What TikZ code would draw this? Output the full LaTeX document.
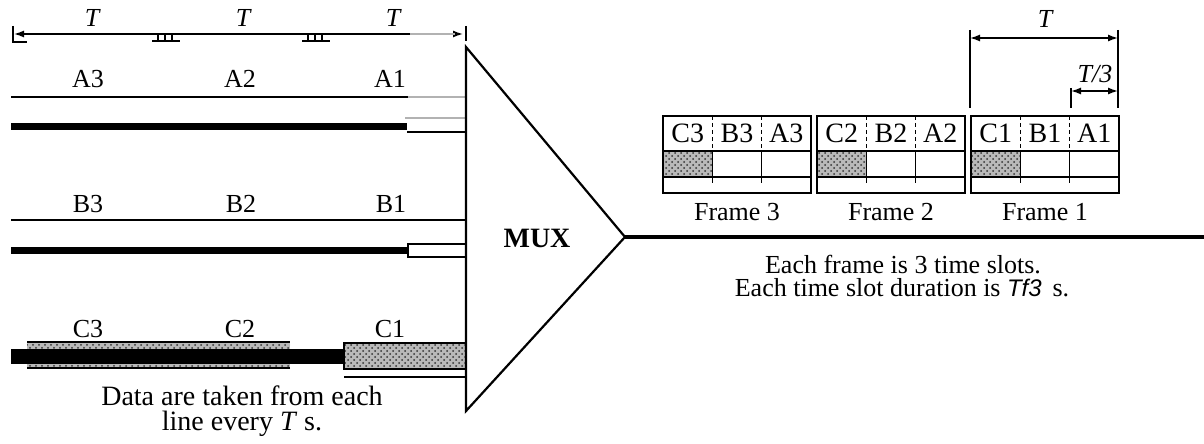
\documentclass[tikz,border=0pt]{standalone}
\usepackage{fontspec}
\setmainfont{Liberation Serif}
\newfontfamily\sansit{Liberation Sans}
\usetikzlibrary{arrows.meta,patterns}
\begin{document}
\begin{tikzpicture}[x=0.5pt,y=-0.5pt,
  lbl/.style={font=\fontsize{13}{15}\selectfont, inner sep=0pt, anchor=base},
  biglbl/.style={font=\fontsize{14}{16}\selectfont, inner sep=0pt, anchor=base},
  wire/.style={line width=0.7pt},
  greywire/.style={line width=0.7pt, draw=gray!60},
  bar/.style={fill=black},
  stip/.style={fill=gray!55, postaction={pattern=crosshatch dots, pattern color=black!80}},
  frm/.style={line width=0.6pt},
  frmthick/.style={line width=1.3pt},
  sepdash/.style={line width=0.5pt, dash pattern=on 2pt off 1.5pt},
  dimarrow/.style={line width=0.7pt, {Latex[length=5pt,width=3.5pt]}-{Latex[length=5pt,width=3.5pt]}},
]
\useasboundingbox (0,0) rectangle (1204,444);

% ---------- top dimension line ----------
\coordinate (dl) at (14,34);
\coordinate (dr) at (463,34);
\draw[dimarrow] (dl) -- (dr);
\draw[greywire, line width=1pt] (410,34) -- (455,34);
\draw[wire] (13,26) -- (13,42) -- (27,42);
\draw[wire] (466,26) -- (466,41);
\foreach \bx in {152,302}{
  \draw[wire] (\bx,41) -- ({\bx+28},41);
  \foreach \k in {6,13,20} \draw[wire] ({\bx+\k},35) -- ({\bx+\k},41);
}
\node[lbl, font=\fontsize{13}{15}\selectfont\itshape] (t1) at (92,27) {T};
\node[lbl, font=\fontsize{13}{15}\selectfont\itshape] (t2) at (243,27) {T};
\node[lbl, font=\fontsize{13}{15}\selectfont\itshape] (t3) at (393,27) {T};

% ---------- line A ----------
\node[lbl] (a3) at (88,88) {A3};
\node[lbl] (a2) at (240,88) {A2};
\node[lbl] (a1) at (390,88) {A1};
\draw[wire] (11,97) -- (408,97);
\draw[greywire] (408,97) -- (466,97);
\fill[bar] (11,123) rectangle (407,130);
\draw[greywire] (405,118) -- (466,118);
\draw[wire] (407,132) -- (466,132);

% ---------- line B ----------
\node[lbl] (b3) at (88,212) {B3};
\node[lbl] (b2) at (241,212) {B2};
\node[lbl] (b1) at (391,212) {B1};
\draw[wire] (11,220) -- (466,220);
\fill[bar] (11,247) rectangle (408,254);
\draw[wire] (408,244) rectangle (466,257);

% ---------- line C ----------
\node[lbl] (c3) at (88,337) {C3};
\node[lbl] (c2) at (240,337) {C2};
\node[lbl] (c1) at (390,337) {C1};
\fill[stip] (27,342) rectangle (290,368);
\draw[wire] (27,342) -- (290,342);
\draw[wire] (27,368) -- (290,368);
\fill[bar] (11,349) rectangle (344,364);
\fill[stip] (344,343) rectangle (466,369);
\draw[wire] (344,343) rectangle (466,369);
\draw[wire] (344,377) -- (466,377);

\node[biglbl] (data1) at (242,405) {Data are taken from each};
\node[biglbl] (data2) at (242,430) {line every \textit{T} s.};

% ---------- MUX ----------
\coordinate (mtop) at (466,47);
\coordinate (apex) at (625,237);
\coordinate (mbot) at (466,411);
\draw[line width=1.1pt, line join=miter] (mtop) -- (apex) -- (mbot) -- cycle;
\node[lbl, font=\fontsize{14}{16}\selectfont\bfseries] (mux) at (537,247) {MUX};
\coordinate (outend) at (1204,237);
\draw[line width=1.6pt] (apex) -- (outend);

% ---------- frames ----------
\foreach \fx/\n in {663/3, 817/2, 971/1}{
  \pgfmathsetmacro{\sa}{\fx+49.3}
  \pgfmathsetmacro{\sb}{\fx+98.7}
  \pgfmathsetmacro{\se}{\fx+148}
  % row 1
  \draw[frm] (\fx,116) rectangle (\se,151);
  \draw[sepdash] (\sa,116) -- (\sa,151);
  \draw[sepdash] (\sb,116) -- (\sb,151);
  \node[biglbl] (fc\n) at ({\fx+24.7},142) {C\n};
  \node[biglbl] (fb\n) at ({\fx+74},142) {B\n};
  \node[biglbl] (fa\n) at ({\fx+123.3},142) {A\n};
  % row 2
  \fill[stip] (\fx,151) rectangle (\sa,177);
  \draw[frmthick] (\fx,151) rectangle (\se,177);
  \draw[frm] (\sa,151) -- (\sa,177);
  \draw[frm] (\sb,151) -- (\sb,177);
  % row 3
  \draw[frm] (\fx,177) rectangle (\se,193);
  \draw[frm] (\sa,177) -- (\sa,183);
  \draw[frm] (\sb,177) -- (\sb,183);
  \node[lbl] (fr\n) at ({\fx+74},220) {Frame \n};
}

% ---------- T and T/3 dimensions ----------
\draw[wire] (970,30) -- (970,108);
\draw[wire] (1118,30) -- (1118,108);
\draw[wire] (1071,88) -- (1071,108);
\coordinate (tl) at (970,38);
\coordinate (tr) at (1118,38);
\draw[dimarrow] (tl) -- (tr);
\node[lbl, font=\fontsize{13}{15}\selectfont\itshape] (tlab) at (1045,28) {T};
\coordinate (t3l) at (1071,91);
\coordinate (t3r) at (1118,91);
\draw[dimarrow] (t3l) -- (t3r);
\node[lbl, font=\fontsize{13}{15}\selectfont\itshape] (t3lab) at (1095,83) {T/3};

% ---------- right text ----------
\node[lbl] (ef1) at (903,273) {Each frame is 3 time slots.};
\node[lbl] (ef2) at (902,296) {Each time slot duration is {\sansit\itshape\fontsize{12}{14}\selectfont Tf3}\, s.};
\end{tikzpicture}
\end{document}
